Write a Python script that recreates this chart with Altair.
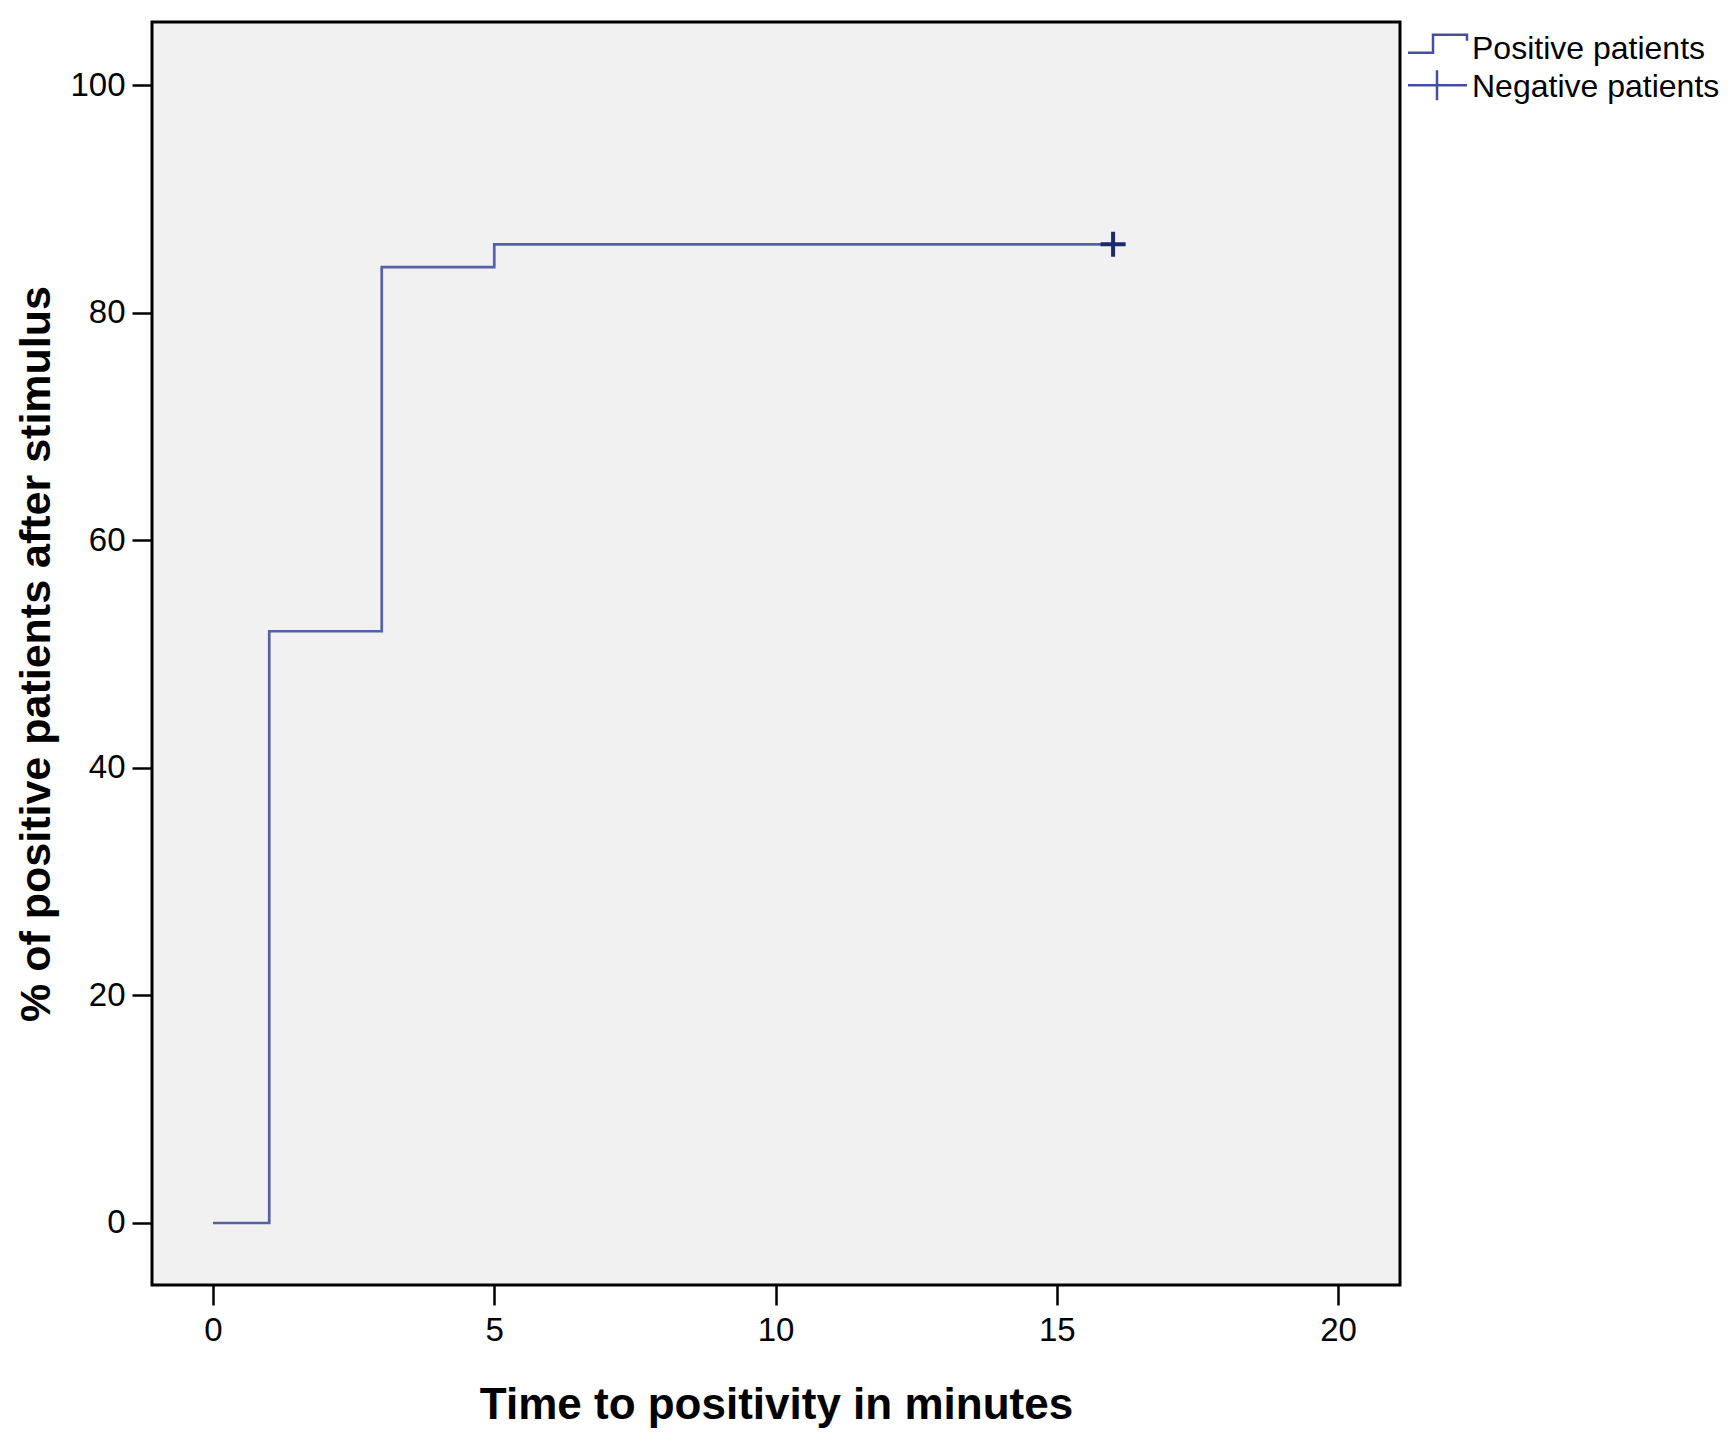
import altair as alt
import pandas as pd

# ---- data ----
time_min = [0, 1, 3, 5, 16]
pct_positive = [0, 52, 84, 86, 86]
censor_time = [16]
censor_pct = [86]
legend_labels = ["Positive patients", "Negative patients"]
x_ticks = [0, 5, 10, 15, 20]
y_ticks = [0, 20, 40, 60, 80, 100]

step_df = pd.DataFrame({"t": time_min, "p": pct_positive})
censor_df = pd.DataFrame({"t": censor_time, "p": censor_pct})
legend_df = pd.DataFrame({"label": legend_labels})

LINE = "#5560a8"
FONT = "Liberation Sans"
PANEL = "#f1f1f1"

x_scale = alt.Scale(domain=[-1.084, 21.1], nice=False, zero=False)
y_scale = alt.Scale(domain=[-5.45, 105.54], nice=False, zero=False)

x_axis = alt.Axis(
    values=x_ticks, format="d", title="Time to positivity in minutes", grid=False, domain=False,
    ticks=True, tickSize=20, tickWidth=2.5, tickColor="black",
    labelFont=FONT, labelFontSize=33, labelColor="black", labelPadding=9,
    titleFont=FONT, titleFontSize=44, titleFontWeight="bold", titleColor="black",
    titleX=624, titleY=133, titleBaseline="alphabetic", titleAlign="center",
)
y_axis = alt.Axis(
    values=y_ticks, format="d", title="% of positive patients after stimulus", grid=False, domain=False,
    ticks=True, tickSize=20, tickWidth=2.5, tickColor="black",
    labelFont=FONT, labelFontSize=33, labelColor="black", labelPadding=7,
    titleFont=FONT, titleFontSize=43, titleFontWeight="bold", titleColor="black",
    titleX=-103, titleY=631.5, titleAngle=270, titleBaseline="alphabetic", titleAlign="center",
)

step = alt.Chart(step_df).mark_line(
    interpolate="step-after", color=LINE, strokeWidth=2.7
).encode(
    x=alt.X("t:Q", scale=x_scale, axis=x_axis),
    y=alt.Y("p:Q", scale=y_scale, axis=y_axis),
)

censor = alt.Chart(censor_df).mark_point(
    shape="M-1,0H1M0,-1V1", size=625, filled=False, color="#1a2a6c",
    strokeWidth=4, opacity=1
).encode(
    x=alt.X("t:Q", scale=x_scale),
    y=alt.Y("p:Q", scale=y_scale),
)

pos_path = "M-2.95,0.4H-0.45V-1.4H2.95V-0.8"
neg_path = "M-2.95,-0.15H2.95M-0.05,-1.65V1.35"

legend_layer = alt.Chart(legend_df).transform_filter("false").mark_point(
    filled=False, color="#44519a", strokeWidth=2.5, opacity=1
).encode(
    shape=alt.Shape(
        "label:N",
        scale=alt.Scale(domain=legend_labels, range=[pos_path, neg_path]),
        legend=alt.Legend(
            title=None, orient="none", legendX=1269.5, legendY=10.7, padding=0,
            labelFont=FONT, labelFontSize=32, labelColor="black", labelOffset=18.5,
            symbolSize=400, symbolStrokeWidth=2.5, symbolStrokeColor="#44519a",
            symbolFillColor="transparent", symbolOpacity=1, rowPadding=0,
            labelLimit=400,
        ),
    )
)

chart = alt.layer(step, censor, legend_layer).properties(
    width=1248, height=1263,
    autosize=alt.AutoSizeParams(type="none"),
    padding={"left": 144, "top": 14, "right": 324, "bottom": 148},
    view=alt.ViewBackground(fill=PANEL, stroke="black", strokeWidth=3),
).configure(
    background="white",
    view=alt.ViewConfig(fill=PANEL, stroke="black", strokeWidth=3),
)

chart.save("out.html", embed_options={"renderer": "svg", "actions": False})
